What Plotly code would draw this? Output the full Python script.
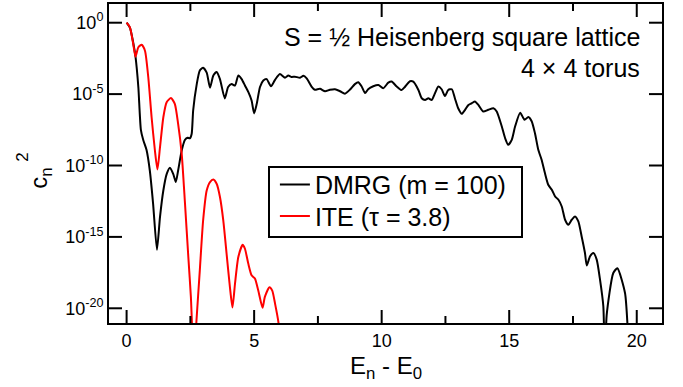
import numpy as np
import plotly.graph_objects as go

# DMRG (m = 100): energy E_n - E_0 and log10(c_n^2)
dmrg_E = [0.00, 0.13, 0.26, 0.35, 0.46, 0.56, 0.65, 0.78, 0.91, 1.04, 1.19, 1.31, 1.44, 1.57, 1.70,
          1.83, 1.93, 2.02, 2.16, 2.29, 2.39, 2.48, 2.55, 2.61, 2.75, 2.87, 3.00, 3.14, 3.27, 3.40,
          3.53, 3.66, 3.85, 3.98, 4.12, 4.25, 4.38, 4.51, 4.64, 4.77, 4.90, 5.00, 5.10, 5.23, 5.36,
          5.49, 5.66, 5.82, 6.01, 6.21, 6.34, 6.47, 6.60, 6.80, 6.93, 7.06, 7.25, 7.38, 7.58, 7.78,
          7.97, 8.17, 8.37, 8.56, 8.76, 8.95, 9.08, 9.21, 9.35, 9.47, 9.67, 9.87, 10.06, 10.26, 10.39,
          10.59, 10.78, 10.91, 11.11, 11.24, 11.44, 11.57, 11.70, 11.83, 11.96, 12.09, 12.22, 12.35,
          12.48, 12.61, 12.75, 12.87, 13.00, 13.14, 13.27, 13.40, 13.53, 13.66, 13.79, 13.98, 14.18,
          14.38, 14.51, 14.71, 14.84, 14.96, 15.10, 15.23, 15.43, 15.60, 15.75, 15.88, 16.01, 16.14,
          16.27, 16.40, 16.53, 16.67, 16.80, 16.93, 17.06, 17.19, 17.32, 17.45, 17.58, 17.71, 17.84,
          17.97, 18.04, 18.17, 18.30, 18.43, 18.56, 18.69, 18.75, 18.82, 19.08, 19.24, 19.54, 19.64,
          19.70]
dmrg_log_c2 = [0.0, -0.35, -1.4, -2.4, -4.5, -7.5, -8.2, -8.9, -10.35, -12.7, -15.9, -13.6, -11.75,
               -10.6, -10.15, -10.6, -11.15, -10.35, -8.95, -8.2, -8.05, -8.1, -7.8, -6.15, -4.3,
               -3.35, -3.15, -3.5, -4.55, -3.7, -3.45, -3.95, -5.3, -4.5, -4.3, -4.4, -3.7, -3.95,
               -4.4, -4.85, -5.45, -6.35, -5.7, -4.5, -4.05, -3.95, -4.45, -4.0, -3.6, -3.85, -3.7,
               -3.8, -3.78, -3.85, -3.72, -3.9, -4.47, -4.7, -4.63, -4.8, -4.7, -4.66, -4.8, -4.97,
               -4.68, -4.3, -4.17, -4.45, -4.93, -4.66, -4.45, -4.36, -4.59, -4.2, -4.12, -4.47,
               -4.72, -4.5, -4.1, -4.13, -4.71, -5.29, -5.41, -5.29, -5.41, -4.94, -4.47, -4.66,
               -5.13, -4.71, -4.66, -5.29, -5.99, -6.38, -6.10, -5.76, -5.64, -5.52, -5.76, -6.22,
               -6.10, -5.99, -6.22, -7.27, -8.09, -8.55, -8.20, -7.27, -6.3, -6.8, -6.6, -6.9,
               -7.74, -8.9, -9.6, -10.53, -11.35, -11.7, -12.17, -12.4, -12.87, -13.8, -14.15,
               -13.8, -13.57, -13.92, -14.97, -16.13, -17.0, -16.36, -16.13, -16.59, -17.99,
               -19.86, -24.0, -20.5, -17.53, -17.2, -18.93, -21.26, -24.0]

# ITE (tau = 3.8)
ite_E = [0.00, 0.13, 0.26, 0.35, 0.46, 0.59, 0.72, 0.85, 0.98, 1.11, 1.21, 1.31, 1.44, 1.57, 1.74,
         1.89, 2.02, 2.16, 2.29, 2.42, 2.52, 2.64, 2.74, 2.87, 3.00, 3.14, 3.27, 3.40, 3.53, 3.66,
         3.79, 3.92, 4.05, 4.15, 4.25, 4.38, 4.55, 4.64, 4.77, 4.90, 5.03, 5.16, 5.33, 5.42, 5.60,
         5.71, 5.82, 5.95, 6.05]
ite_log_c2 = [0.0, -0.32, -1.49, -2.38, -1.72, -1.54, -1.96, -3.82, -6.62, -8.95, -10.28, -8.72,
              -6.62, -5.57, -5.27, -5.69, -7.09, -9.18, -12.68, -16.41, -19.2, -24.0, -20.84,
              -17.34, -13.85, -11.75, -11.16, -10.98, -11.28, -12.21, -13.85, -16.18, -18.51,
              -19.95, -18.27, -16.41, -15.55, -15.83, -16.87, -17.69, -17.92, -18.74, -19.97,
              -19.2, -18.52, -18.76, -19.67, -20.95, -23.0]

x_ticks = [0, 5, 10, 15, 20]
x_minor_ticks = [2.5, 7.5, 12.5, 17.5]
y_tick_exps = [0, -5, -10, -15, -20]

X_RANGE = [-0.69, 20.99]
Y_LOG_RANGE = [-21.03, 1.31]
FONT = "Liberation Sans, Arial, Helvetica, sans-serif"

W, H = 683, 387
ML, MR, MT, MB = 109, 21, 4, 64
PW, PH = W - ML - MR, H - MT - MB
MAJOR_LEN, MINOR_LEN = 13, 7  # tick lengths in pixels

fig = go.Figure()
fig.add_trace(go.Scatter(
    x=dmrg_E, y=np.power(10.0, dmrg_log_c2), mode="lines", name="DMRG (m = 100)",
    legend="legend",
    line=dict(color="black", width=2, shape="spline", smoothing=0.6)))
fig.add_trace(go.Scatter(
    x=ite_E, y=np.power(10.0, ite_log_c2), mode="lines", name="ITE (\u03c4 = 3.8)",
    legend="legend2",
    line=dict(color="#ff0000", width=2, shape="spline", smoothing=0.6)))

# inward tick marks on all four sides, expressed in axis units
dec_per_px = (Y_LOG_RANGE[1] - Y_LOG_RANGE[0]) / PH
x_per_px = (X_RANGE[1] - X_RANGE[0]) / PW
tx, ty = [], []
for xv in x_ticks + x_minor_ticks:
    L = (MAJOR_LEN if xv in x_ticks else MINOR_LEN) * dec_per_px
    tx += [xv, xv, None, xv, xv, None]
    ty += [10 ** Y_LOG_RANGE[0], 10 ** (Y_LOG_RANGE[0] + L), None,
           10 ** (Y_LOG_RANGE[1] - L), 10 ** Y_LOG_RANGE[1], None]
for e in y_tick_exps:
    L = MAJOR_LEN * x_per_px
    tx += [X_RANGE[0], X_RANGE[0] + L, None, X_RANGE[1] - L, X_RANGE[1], None]
    ty += [10.0 ** e, 10.0 ** e, None, 10.0 ** e, 10.0 ** e, None]
fig.add_trace(go.Scatter(x=tx, y=ty, mode="lines", showlegend=False, hoverinfo="skip",
                         line=dict(color="black", width=2), connectgaps=False))

leg_common = dict(xanchor="left", yanchor="middle", bgcolor="rgba(0,0,0,0)",
                  borderwidth=0, font=dict(size=25, family=FONT), itemwidth=30)

fig.update_layout(
    template="none",
    width=W, height=H,
    margin=dict(l=ML, r=MR, t=MT, b=MB, autoexpand=False),
    paper_bgcolor="white", plot_bgcolor="white",
    font=dict(family=FONT, color="black", size=18),
    showlegend=True,
    legend=dict(x=0.30, y=0.433, **leg_common),
    legend2=dict(x=0.30, y=0.335, **leg_common),
    xaxis=dict(range=X_RANGE, showgrid=False, zeroline=False, automargin=False,
               showline=True, linecolor="black", linewidth=2, mirror=True,
               ticks="", tickmode="array", tickvals=x_ticks,
               ticktext=[str(v) for v in x_ticks], tickfont=dict(size=18)),
    yaxis=dict(type="log", range=Y_LOG_RANGE, showgrid=False, zeroline=False, automargin=False,
               showline=True, linecolor="black", linewidth=2, mirror=True,
               ticks="", tickmode="array",
               tickvals=[10.0 ** e for e in y_tick_exps],
               ticktext=["10<sup>%d</sup>" % e for e in y_tick_exps],
               tickfont=dict(size=18)),
    shapes=[dict(type="rect", xref="paper", yref="paper",
                 x0=(269 - ML) / PW, x1=(522 - ML) / PW,
                 y0=(H - MB - 237) / PH, y1=(H - MB - 167) / PH,
                 line=dict(color="black", width=2), fillcolor="white", layer="above")],
    annotations=[
        dict(text="S = \u00bd Heisenberg square lattice", xref="paper", yref="paper",
             x=0.963, y=0.898, xanchor="right", yanchor="middle", showarrow=False,
             font=dict(size=25, family=FONT)),
        dict(text="4 \u00d7 4 torus", xref="paper", yref="paper",
             x=0.963, y=0.798, xanchor="right", yanchor="middle", showarrow=False,
             font=dict(size=25, family=FONT)),
        dict(text="E<sub>n</sub> - E<sub>0</sub>", xref="paper", yref="paper",
             x=0.500, y=-0.085, xanchor="center", yanchor="top", showarrow=False,
             font=dict(size=24, family=FONT)),
        dict(text="c<sub>n</sub>", xref="paper", yref="paper",
             x=-0.123, y=0.455, xanchor="center", yanchor="middle", showarrow=False,
             textangle=-90, font=dict(size=24, family=FONT)),
        dict(text="2", xref="paper", yref="paper",
             x=-0.158, y=0.52, xanchor="center", yanchor="middle", showarrow=False,
             textangle=-90, font=dict(size=17, family=FONT)),
    ],
)

fig.write_html("out.html", config={"displayModeBar": False},
               post_script="document.body.style.margin='0';")
